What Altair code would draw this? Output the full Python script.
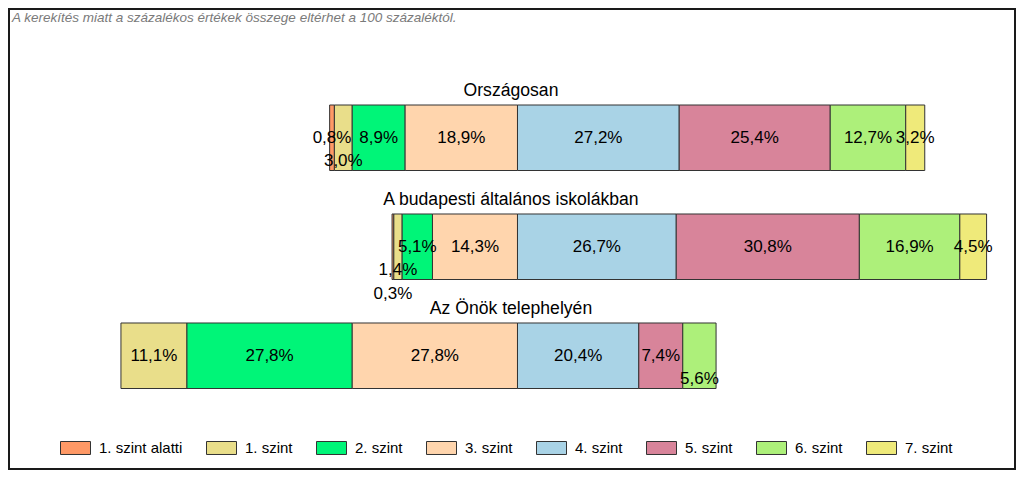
import altair as alt
import pandas as pd

# ---- data ----
groups = ["Országosan", "A budapesti általános iskolákban", "Az Önök telephelyén"]
levels = ["1. szint alatti", "1. szint", "2. szint", "3. szint",
          "4. szint", "5. szint", "6. szint", "7. szint"]
orszagos = [0.8, 3.0, 8.9, 18.9, 27.2, 25.4, 12.7, 3.2]
budapest = [0.3, 1.4, 5.1, 14.3, 26.7, 30.8, 16.9, 4.5]
onok = [0.0, 11.1, 27.8, 27.8, 20.4, 7.4, 5.6, 0.0]
colors = ["#FF9966", "#E9DE8A", "#00F578", "#FFD5AD",
          "#A9D3E6", "#D8849A", "#ADF07A", "#EFEA7A"]
note = "A kerekítés miatt a  százalékos értékek összege eltérhet a 100 százaléktól."

# label collision rows (0 = inside bar, 1/2 = pushed down), as in the reference
label_rows = {
    (groups[0], "1. szint"): 1,
    (groups[1], "1. szint alatti"): 2,
    (groups[1], "1. szint"): 1,
    (groups[2], "6. szint"): 1,
}

rows = []
for g, vals in zip(groups, [orszagos, budapest, onok]):
    start = -sum(vals[:4])  # bars are aligned on the 3./4. szint boundary
    for lev, v in zip(levels, vals):
        if v > 0:
            rows.append(dict(group=g, level=lev, start=start, end=start + v,
                             mid=start + v / 2,
                             label=f"{v:.1f}".replace(".", ",") + "%",
                             row=label_rows.get((g, lev), 0)))
        start += v
df = pd.DataFrame(rows)

# ---- layout ----
PAD = 1
W, H = 1006, 460
FONT = "Liberation Sans"

xs = alt.Scale(domain=[-85.53, 83.68], nice=False, zero=False)
ys = alt.Scale(domain=groups, range=[96, 379.5], paddingInner=0.399, paddingOuter=0)

bars = alt.Chart(df).mark_bar(stroke="#333333", strokeWidth=1, opacity=1).encode(
    x=alt.X("start:Q", scale=xs, axis=None),
    x2="end:Q",
    y=alt.Y("group:N", scale=ys, axis=None),
    color=alt.Color("level:N", scale=alt.Scale(domain=levels, range=colors),
                    legend=alt.Legend(
                        orient="none", legendX=51, legendY=423.5,
                        direction="horizontal", columns=8, title=None,
                        symbolType="M-1,-0.433H1V0.433H-1Z", symbolSize=900,
                        symbolStrokeColor="#333333", symbolStrokeWidth=1,
                        symbolOpacity=1, labelFont=FONT, labelFontSize=15,
                        labelColor="#000000", labelOffset=8, columnPadding=21,
                        padding=0)),
)

label_layers = []
for r in [0, 1, 2]:
    label_layers.append(
        alt.Chart(df).transform_filter(alt.datum.row == r)
        .mark_text(fontSize=17, font=FONT, color="#000000", baseline="middle", dy=23.5 * r)
        .encode(x=alt.X("mid:Q", scale=xs, axis=None),
                y=alt.Y("group:N", scale=ys, axis=None),
                text="label:N")
    )

titles = alt.Chart(pd.DataFrame({"group": groups})).mark_text(
    fontSize=17.6, font=FONT, color="#000000", baseline="alphabetic", dy=-42
).encode(
    x=alt.value(W / 2 - 1),
    y=alt.Y("group:N", scale=ys, axis=None),
    text="group:N",
)

note_layer = alt.Chart(pd.DataFrame({"t": [note]})).mark_text(
    fontSize=13.5, font=FONT, fontStyle="italic", color="#7a7a7a",
    align="left", baseline="alphabetic"
).encode(x=alt.value(3), y=alt.value(13), text="t:N")

chart = alt.layer(bars, *label_layers, titles, note_layer).properties(
    width=W, height=H, padding=PAD,
    autosize=alt.AutoSizeParams(type="none"),
).configure_view(stroke="#1a1a1a", strokeWidth=2)

chart.save("out.html", embed_options={"renderer": "svg", "actions": False})
